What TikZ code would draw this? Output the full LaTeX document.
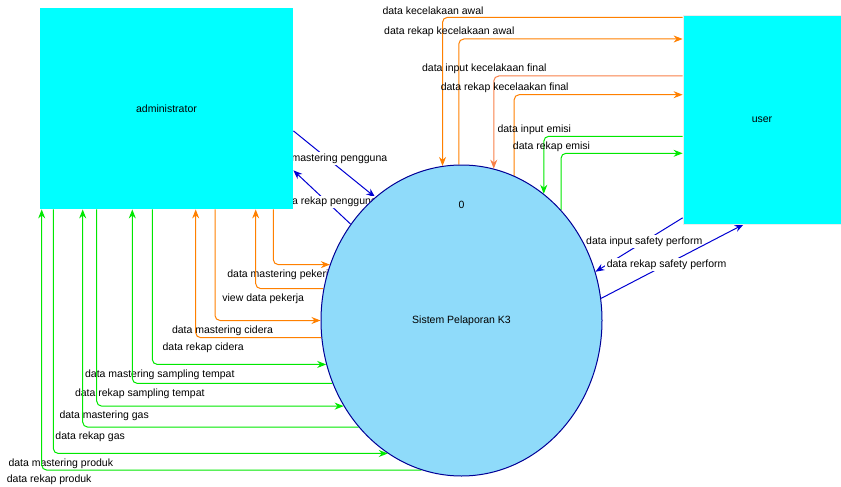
\documentclass[tikz,border=0pt]{standalone}
\usepackage{fontspec}
\setmainfont{Liberation Sans}
\usetikzlibrary{arrows.meta,shapes.geometric,backgrounds}
\definecolor{boxcyan}{RGB}{0,255,255}
\definecolor{procblue}{RGB}{143,219,250}
\definecolor{floworange}{RGB}{255,128,0}
\definecolor{flowcoral}{RGB}{248,128,72}
\definecolor{flowgreen}{RGB}{0,232,0}
\definecolor{flowblue}{RGB}{0,0,210}
\definecolor{rimblue}{RGB}{0,0,150}

\begin{document}
\begin{tikzpicture}[x=1pt, y=-1pt, font=\fontsize{10.5}{12}\selectfont,
	entity/.style={rectangle, fill=boxcyan, draw=gray!15, line width=0.8pt, inner sep=0},
	process/.style={ellipse, fill=procblue, draw=rimblue, line width=1pt, minimum width=281pt, minimum height=311pt, inner sep=0},
	flow/.style={line width=1pt, rounded corners=5pt, -{Stealth[length=9pt, width=7pt]}},
	oflow/.style={flow, floworange}, cflow/.style={flow, flowcoral}, gflow/.style={flow, flowgreen},
	bflow/.style={flow, flowblue, rounded corners=0pt},
	toplabel/.style={pos=0.5, xshift=-9.5pt, yshift=7pt, text=black},
	leftlabel/.style={pos=0.5, xshift=7.5pt, yshift=-10pt, text=black},
	diaglabel/.style={fill=white, inner sep=1.5pt, text=black}]
		\useasboundingbox (0,0) rectangle (841,487);
		\node[entity, draw=none, minimum width=253pt, minimum height=201pt]	(admin) at (166.5,108.5)	{administrator};
		\node[entity, minimum width=158pt, minimum height=208.4pt]	(user) at (762,119.8)	{user};
		\node[process]	(proc) at (461.5,320.5)	{Sistem Pelaporan K3};
		\node	(procnum) at (461.5,204.5)	{0};
		
		\begin{pgfonlayer}{background}
		\draw[oflow] (user.west |- 0,17.3) -| (proc.97.9) node[toplabel] {data kecelakaan awal};
		\draw[oflow] (proc.91.9) |- (user.west |- 0,39) node[toplabel] {data rekap kecelakaan awal};
		\draw[cflow] (user.west |- 0,76) -| (proc.78.1) node[toplabel] {data input kecelakaan final};
		\draw[oflow] (proc.70.6) |- (user.west |- 0,94.7) node[toplabel] {data rekap kecelaakan final};
		\draw[gflow] (user.west |- 0,136.3) -| (proc.57) node[toplabel] {data input emisi};
		\draw[gflow] (proc.48.3) |- (user.west |- 0,153.3) node[toplabel] {data rekap emisi};
		
		\draw[bflow] (admin.350.1) -- (proc.125.2) node[diaglabel, pos=0.42] {data mastering pengguna};
		\draw[bflow] (proc.139.4) -- (admin.334.1) node[diaglabel, pos=0.41] {data rekap pengguna};
		\draw[bflow] (user.231.6) -- (proc.20.1) node[diaglabel, pos=0.44] {data input safety perform};
		\draw[bflow] (proc.9.9) -- (user.260.8) node[diaglabel, pos=0.46] {data rekap safety perform};
		
		\draw[oflow] (admin.south -| 273.3,0) |- (proc.157.7) node[leftlabel] {data mastering pekerja};
		\draw[oflow] (proc.167.4) -| (admin.south -| 255.7,0) node[leftlabel] {view data pekerja};
		\draw[oflow] (admin.south -| 215,0) |- (proc.180.9) node[leftlabel] {data mastering cidera};
		\draw[oflow] (proc.187.2) -| (admin.south -| 195.7,0) node[leftlabel] {data rekap cidera};
		\draw[gflow] (admin.south -| 152.3,0) |- (proc.198.8) node[leftlabel] {data mastering sampling tempat};
		\draw[gflow] (proc.206) -| (admin.south -| 132.3,0) node[leftlabel] {data rekap sampling tempat};
		\draw[gflow] (admin.south -| 96.7,0) |- (proc.216.9) node[leftlabel] {data mastering gas};
		\draw[gflow] (proc.226.8) -| (admin.south -| 82.7,0) node[leftlabel] {data rekap gas};
		\draw[gflow] (admin.south -| 53.3,0) |- (proc.241) node[leftlabel] {data mastering produk};
		\draw[gflow] (proc.255.1) -| (admin.south -| 41.7,0) node[leftlabel] {data rekap produk};
		\end{pgfonlayer}
		
		\end{tikzpicture}
\end{document}
